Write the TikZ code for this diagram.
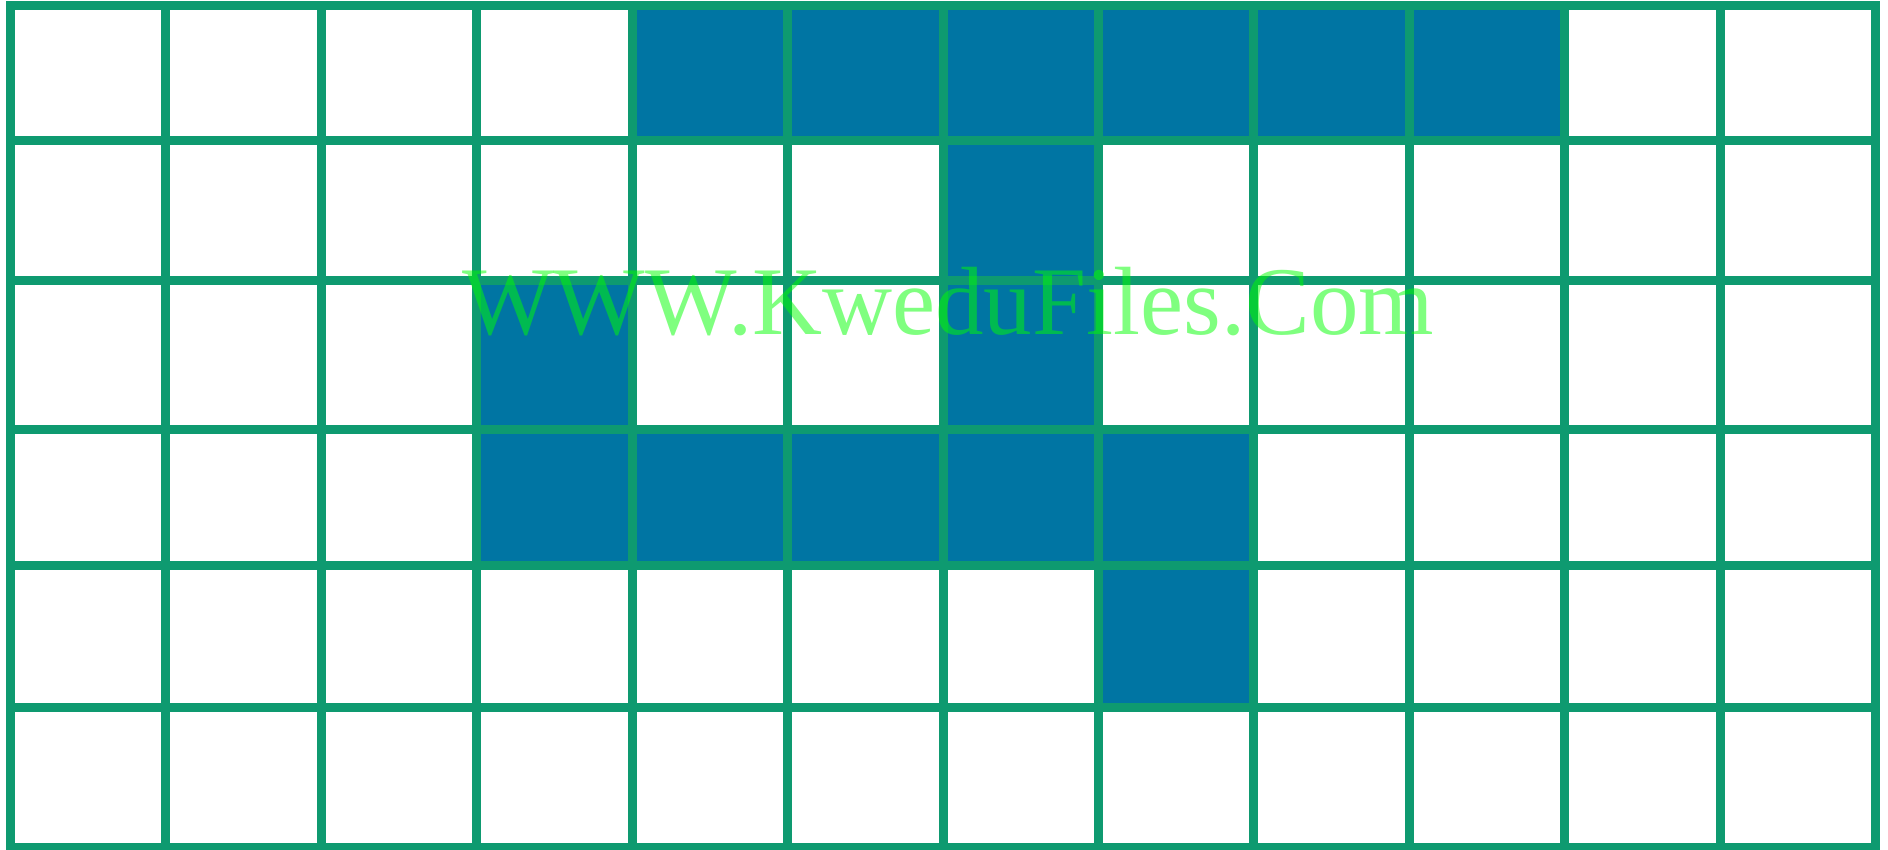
\documentclass[tikz,border=0pt]{standalone}
\usepackage{fontspec}
\setmainfont{Liberation Serif}
\definecolor{gridgreen}{RGB}{14,154,112}
\definecolor{cellblue}{RGB}{0,117,163}
\definecolor{markgreen}{RGB}{0,255,0}
\tikzset{
  cellfill/.style={fill=cellblue},
  gridline/.style={draw=gridgreen,line width=9pt,line cap=rect},
  watermark/.style={text=markgreen,text opacity=0.5,inner sep=0pt,anchor=base west,font=\fontsize{97}{100}\selectfont}
}
\begin{document}
\begin{tikzpicture}[x=1pt,y=-1pt]
\useasboundingbox (0,0) rectangle (1888,849);
\fill[white] (0,0) rectangle (1888,849);
\def\xo{10.3}\def\dx{155.45}
% row line positions (top to bottom)
\def\rowy#1{\ifcase#1 5.5\or 140.5\or 280.5\or 429.8\or 565.5\or 707.5\or 847.8\fi}
% blue cells: (column,row)
\foreach \c/\r [evaluate=\r as \rn using int(\r+1)] in {4/0,5/0,6/0,7/0,8/0,9/0,6/1,3/2,6/2,3/3,4/3,5/3,6/3,7/3,7/4}{
  \fill[cellfill] ({\xo+\c*\dx},\rowy{\r}) rectangle ({\xo+(\c+1)*\dx},\rowy{\rn});
}
% grid
\foreach \i in {0,...,12}{
  \draw[gridline] ({\xo+\i*\dx},\rowy{0}) -- ({\xo+\i*\dx},\rowy{6});
}
\foreach \j in {0,...,6}{
  \draw[gridline] (\xo,\rowy{\j}) -- ({\xo+12*\dx},\rowy{\j});
}
\node[watermark] (wm) at (462,334) {WWW.KweduFiles.Com};
\end{tikzpicture}
\end{document}
